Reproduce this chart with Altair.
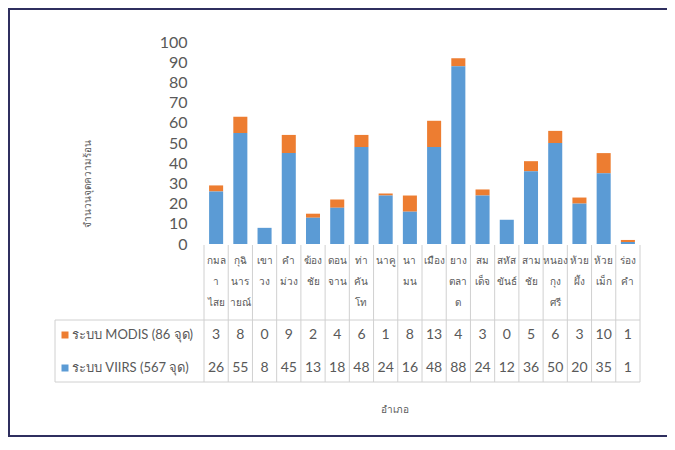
import altair as alt
import pandas as pd

districts = ["กมลาไสย", "กุฉินารายณ์", "เขาวง", "คำม่วง", "ฆ้องชัย", "ดอนจาน", "ท่าคันโท", "นาคู", "นามน",
             "เมือง", "ยางตลาด", "สมเด็จ", "สหัสขันธ์", "สามชัย", "หนองกุงศรี", "ห้วยผึ้ง", "ห้วยเม็ก", "ร่องคำ"]
district_labels = ["กมล\nา\nไสย", "กุฉิ\nนาร\nายณ์", "เขา\nวง", "คำ\nม่วง", "ฆ้อง\nชัย", "ดอน\nจาน",
                   "ท่า\nคัน\nโท", "นาคู", "นา\nมน", "เมือง", "ยาง\nตลา\nด", "สม\nเด็จ", "สหัส\nขันธ์",
                   "สาม\nชัย", "หนอง\nกุง\nศรี", "ห้วย\nผึ้ง", "ห้วย\nเม็ก", "ร่อง\nคำ"]
modis = [3, 8, 0, 9, 2, 4, 6, 1, 8, 13, 4, 3, 0, 5, 6, 3, 10, 1]
viirs = [26, 55, 8, 45, 13, 18, 48, 24, 16, 48, 88, 24, 12, 36, 50, 20, 35, 1]
series_names = ["ระบบ MODIS (86 จุด)", "ระบบ VIIRS (567 จุด)"]
series_colors = ["#ED7D31", "#5B9BD5"]
y_ticks = list(range(0, 101, 10))
y_title = "จำนวนจุดความร้อน"
x_title = "อำเภอ"

rows = []
for i, d in enumerate(districts):
    rows.append({"district": d, "series": series_names[0], "value": modis[i], "order": 1})
    rows.append({"district": d, "series": series_names[1], "value": viirs[i], "order": 0})
df = pd.DataFrame(rows)
df_cat = pd.DataFrame({"district": districts, "label": district_labels})
one = pd.DataFrame({"a": [0]})

W, H = 436, 340
LINE = "#d0d0d0"
TXT = "#595959"
FONT = "Lato"

xscale = alt.Scale(domain=districts, paddingInner=0, paddingOuter=0)
xenc = alt.X("district:N", sort=districts, scale=xscale, axis=None)
cscale = alt.Scale(domain=series_names, range=series_colors)

bars = alt.Chart(df).mark_bar(width=alt.RelativeBandSize(0.58)).encode(
    x=xenc,
    y=alt.Y("value:Q", stack="zero",
            scale=alt.Scale(domain=[0, 100], range=[202, 0], nice=False),
            axis=alt.Axis(values=y_ticks, ticks=False, domain=False, grid=False,
                          labelFontSize=16, labelColor=TXT, labelFont=FONT, labelPadding=17,
                          title=y_title, titleX=-112, titleY=141, titleFontSize=10,
                          titleColor=TXT, titleFontWeight="normal", titleAngle=-90)),
    color=alt.Color("series:N", scale=cscale, legend=None),
    order=alt.Order("order:Q"),
)

col_rules = alt.Chart(df_cat).mark_rule(color=LINE).encode(
    x=alt.X("district:N", sort=districts, scale=xscale, axis=None, bandPosition=0),
    y=alt.value(203), y2=alt.value(H),
)
last_rule = alt.Chart(one).mark_rule(color=LINE).encode(x=alt.value(W), y=alt.value(203), y2=alt.value(H))
left_rule = alt.Chart(one).mark_rule(color=LINE).encode(x=alt.value(-149), y=alt.value(278), y2=alt.value(H))
top_rule = alt.Chart(one).mark_rule(color=LINE).encode(x=alt.value(-149), x2=alt.value(W), y=alt.value(278))
bot_rule = alt.Chart(one).mark_rule(color=LINE).encode(x=alt.value(-149), x2=alt.value(W), y=alt.value(H))

cat_text = alt.Chart(df_cat).mark_text(lineBreak="\n", baseline="top", fontSize=10, lineHeight=21,
                                       color=TXT).encode(
    x=xenc, y=alt.value(214), text="label:N"
)

row_y = [293, 326]
layers = [col_rules, last_rule, left_rule, top_rule, bot_rule, bars, cat_text]
for i, s in enumerate(series_names):
    sub = df[df["series"] == s]
    layers.append(alt.Chart(sub).mark_text(fontSize=14, font=FONT, color=TXT).encode(
        x=xenc, y=alt.value(row_y[i]), text="value:Q"))
    leg = pd.DataFrame({"series": [s]})
    layers.append(alt.Chart(leg).mark_square(size=49, opacity=1).encode(
        x=alt.value(-139), y=alt.value(row_y[i]),
        color=alt.Color("series:N", scale=cscale, legend=None)))
    layers.append(alt.Chart(leg).mark_text(align="left", fontSize=13, font=FONT, color=TXT).encode(
        x=alt.value(-132), y=alt.value(row_y[i]), text="series:N"))

xtitle = alt.Chart(one).mark_text(fontSize=10, color=TXT).encode(
    x=alt.value(191), y=alt.value(368), text=alt.value(x_title))
frame = alt.Chart(one).mark_rect(fillOpacity=0, stroke="#2f2f5f", strokeWidth=2).encode(
    x=alt.value(-195), x2=alt.value(480), y=alt.value(-33), y2=alt.value(394))
layers += [xtitle, frame]

chart = alt.layer(*layers).properties(
    width=W, height=H,
    autosize=alt.AutoSizeParams(type="none"),
    padding={"left": 196, "top": 34, "right": 27, "bottom": 60},
    background="white",
).configure_view(strokeWidth=0)

chart.save("out.html", embed_options={"renderer": "svg", "actions": False})
